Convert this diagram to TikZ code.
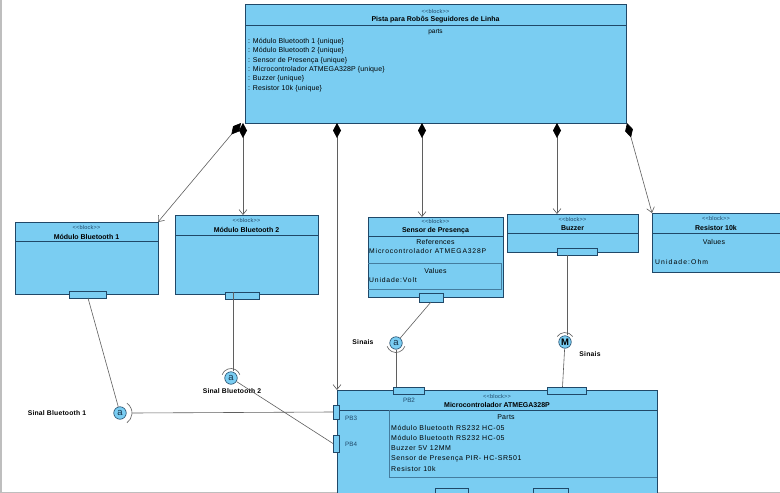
\documentclass[tikz,border=0pt]{standalone}
\usepackage{fontspec}
\setmainfont{Liberation Sans}
\usetikzlibrary{arrows.meta,calc}
\definecolor{blk}{RGB}{122,205,242}
\definecolor{bord}{RGB}{32,72,104}
\definecolor{ln}{RGB}{95,95,95}
\definecolor{frame}{RGB}{190,190,190}
\newcommand{\stblock}{{<}{<}block{>}{>}}
\tikzset{
  blockbox/.style={draw=bord, fill=blk, line width=0.8pt, anchor=north west, inner sep=0pt, outer sep=0pt},
  portbox/.style={draw=bord, fill=blk, line width=0.6pt, inner sep=0pt, outer sep=0pt},
  hline/.style={draw=bord, line width=0.7pt},
  inner/.style={draw=bord!60!blk, line width=0.4pt},
  stereo/.style={font=\fontsize{5.6}{6}\selectfont\addfontfeatures{LetterSpace=4}, text=bord, inner sep=0pt},
  bname/.style={font=\bfseries\fontsize{7}{8}\selectfont, inner sep=0pt},
  btext/.style={font=\fontsize{7}{8}\selectfont\addfontfeatures{LetterSpace=2}, inner sep=0pt, anchor=west},
  bigtext/.style={font=\fontsize{7}{8}\selectfont\addfontfeatures{LetterSpace=8}, inner sep=0pt, anchor=west},
  widetext/.style={font=\fontsize{6.8}{8}\selectfont\addfontfeatures{LetterSpace=12}, inner sep=0pt, anchor=west},
  ctext/.style={font=\fontsize{7}{8}\selectfont\addfontfeatures{LetterSpace=4}, inner sep=0pt},
  portlbl/.style={font=\fontsize{6.3}{7}\selectfont, text=bord, inner sep=0pt},
  lbl/.style={font=\bfseries\fontsize{6.8}{8}\selectfont\addfontfeatures{LetterSpace=3}, inner sep=0pt},
  conn/.style={draw=ln, line width=0.6pt},
  comp/.style={draw=ln, line width=0.6pt, {Diamond[length=15pt,width=8pt,color=black,fill=black]}-{Straight Barb[length=5pt,width=8pt]}},
  iface/.style={circle, draw=bord, fill=blk, line width=0.6pt, minimum size=12.5pt, inner sep=0pt, font=\fontsize{9.5}{9}\selectfont, text=bord!70!black},
  sock/.style={draw=ln, line width=0.6pt},
}
\begin{document}
\begin{tikzpicture}[x=1pt,y=-1pt]
\useasboundingbox (0,0) rectangle (780,493);
\clip (0,0) rectangle (780,493);
\fill[white] (0,0) rectangle (780,493);
\draw[frame, line width=1.2pt] (1,0) -- (1,493);
\draw[frame, line width=1pt] (0,492) -- (780,492);

% ---------- top block ----------
\node[blockbox, minimum width=381pt, minimum height=119pt] (top) at (245,4) {};
\draw[hline] (245,25) -- (626,25);
\node[stereo] at (435.5,11) {\stblock};
\node[bname] at (435.5,20) {Pista para Robôs Seguidores de Linha};
\node[ctext, font=\fontsize{6.5}{7}\selectfont] at (435.5,32) {parts};
\node[btext] at (248,42) {: Módulo Bluetooth 1 \{unique\}};
\node[btext] at (248,51) {: Módulo Bluetooth 2 \{unique\}};
\node[btext] at (248,61) {: Sensor de Presença \{unique\}};
\node[btext] at (248,69.5) {: Microcontrolador ATMEGA328P \{unique\}};
\node[btext] at (248,79) {: Buzzer \{unique\}};
\node[btext] at (248,89) {: Resistor 10k \{unique\}};

% ---------- Bluetooth 1 ----------
\node[blockbox, minimum width=143pt, minimum height=72pt] (bt1) at (15,222) {};
\draw[hline] (15,241) -- (158,241);
\node[stereo] at (86.5,227) {\stblock};
\node[bname] at (86.5,236.5) {Módulo Bluetooth 1};
\node[portbox, minimum width=37pt, minimum height=7pt] (p1) at (88,294.5) {};

% ---------- Bluetooth 2 ----------
\node[blockbox, minimum width=143pt, minimum height=79pt] (bt2) at (175,215) {};
\draw[hline] (175,235) -- (318,235);
\node[stereo] at (246.5,220) {\stblock};
\node[bname] at (246.5,230) {Módulo Bluetooth 2};
\node[portbox, minimum width=34pt, minimum height=7pt] (p2) at (242,295.5) {};

% ---------- Sensor ----------
\node[blockbox, minimum width=135pt, minimum height=80pt] (sen) at (368,217) {};
\draw[hline] (368,236) -- (503,236);
\node[stereo] at (435.5,221.5) {\stblock};
\node[bname] at (435.5,231) {Sensor de Presença};
\node[ctext] at (435.5,242) {References};
\node[widetext] at (369,251.5) {Microcontrolador ATMEGA328P};
\draw[inner] (368,263) -- (501,263) -- (501,289) -- (368,289);
\node[ctext] at (435.5,271) {Values};
\node[widetext] at (369,280) {Unidade:Volt};
\node[portbox, minimum width=24pt, minimum height=9pt] (p3) at (431,297.5) {};

% ---------- Buzzer ----------
\node[blockbox, minimum width=131pt, minimum height=38pt] (buz) at (507,214) {};
\draw[hline] (507,233) -- (638,233);
\node[stereo] at (572.5,219) {\stblock};
\node[bname] at (572.5,228.5) {Buzzer};
\node[portbox, minimum width=40pt, minimum height=7pt] (p4) at (577,251.5) {};

% ---------- Resistor ----------
\node[blockbox, minimum width=130pt, minimum height=59pt] (res) at (652,213) {};
\draw[hline] (652,233) -- (782,233);
\node[stereo] at (716,218) {\stblock};
\node[bname] at (716,227.5) {Resistor 10k};
\node[ctext] at (714,242) {Values};
\node[widetext, font=\fontsize{6.8}{8}\selectfont\addfontfeatures{LetterSpace=16}] at (655,262.5) {Unidade:Ohm};

% ---------- Microcontroller ----------
\node[blockbox, minimum width=320pt, minimum height=115pt] (mcu) at (337,390) {};
\draw[hline] (337,410) -- (657,410);
\draw[inner] (389,410) -- (389,477) -- (657,477);
\node[stereo] at (497,396) {\stblock};
\node[bname] at (497,405) {Microcontrolador ATMEGA328P};
\node[ctext] at (506,417) {Parts};
\node[bigtext] at (391,427.5) {Módulo Bluetooth RS232 HC-05};
\node[bigtext] at (391,437.5) {Módulo Bluetooth RS232 HC-05};
\node[bigtext] at (391,448) {Buzzer 5V 12MM};
\node[bigtext] at (391,458.5) {Sensor de Presença PIR- HC-SR501};
\node[bigtext] at (391,469) {Resistor 10k};
\node[portbox, minimum width=31pt, minimum height=7pt] (pb2) at (408.5,390.5) {};
\node[portlbl] at (409,400) {PB2};
\node[portbox, minimum width=39pt, minimum height=7pt] (pm) at (566.5,390.5) {};
\node[portbox, minimum width=6pt, minimum height=14pt] (pb3) at (336,412) {};
\node[portlbl, anchor=west] at (345,418) {PB3};
\node[portbox, minimum width=6pt, minimum height=17pt] (pb4) at (336,443.5) {};
\node[portlbl, anchor=west] at (345,444) {PB4};
\node[portbox, minimum width=33pt, minimum height=8pt] (pq1) at (451.5,492) {};
\node[portbox, minimum width=35pt, minimum height=8pt] (pq2) at (550.5,492) {};

% ---------- composition connectors ----------
\coordinate (d1) at (241,123);
\coordinate (d2) at (243,123);
\coordinate (d3) at (337,123);
\coordinate (d4) at (422,123);
\coordinate (d5) at (557,123);
\coordinate (d6) at (627,123);
\draw[comp] (d1) -- (bt1.north east);
\draw[comp] (d2) -- (d2 |- bt2.north);
\draw[comp] (d3) -- (mcu.north west);
\draw[comp] (d4) -- (d4 |- sen.north);
\draw[comp] (d5) -- (d5 |- buz.north);
\draw[comp] (d6) -- (res.north west);

% ---------- interfaces ----------
\node[iface] (i1) at (120,413) {a};
\node[iface] (i2) at (231,378) {a};
\node[iface] (i3) at (396,343) {a};
\node[iface, font=\bfseries\fontsize{9.5}{9}\selectfont, text=black] (i4) at (565,342) {M};

\draw[sock] (i1.center) ++(55:12pt) arc[start angle=55, end angle=-55, radius=12pt];
\draw[sock] (i2.center) ++(20:9.5pt) arc[start angle=20, end angle=160, radius=9.5pt];
\draw[sock] (i3.center) ++(200:9.5pt) arc[start angle=200, end angle=340, radius=9.5pt];
\draw[sock] (i4.center) ++(35:9.5pt) arc[start angle=35, end angle=145, radius=9.5pt];

\node[lbl] at (57,413) {Sinal Bluetooth 1};
\node[lbl] at (232,391) {Sinal Bluetooth 2};
\node[lbl] at (363,342.5) {Sinais};
\node[lbl] at (590,354) {Sinais};

% ---------- signal connectors ----------
\draw[conn] (p1.south) -- (i1);
\draw[conn] ([xshift=12pt]i1.center) -- (pb3.west);
\draw[conn] ([xshift=-9pt]p2.north) -- ([xshift=2pt]i2.north);
\draw[conn] (i2) -- (pb4.west);
\draw[conn] (p3.south) -- (i3);
\draw[conn] (i3) -- (i3 |- pb2.north);
\draw[conn] ([xshift=-10pt]p4.south) -- ([xshift=2pt]i4.north);
\draw[conn] (i4) -- ([xshift=-4pt]pm.north);
\end{tikzpicture}
\end{document}
